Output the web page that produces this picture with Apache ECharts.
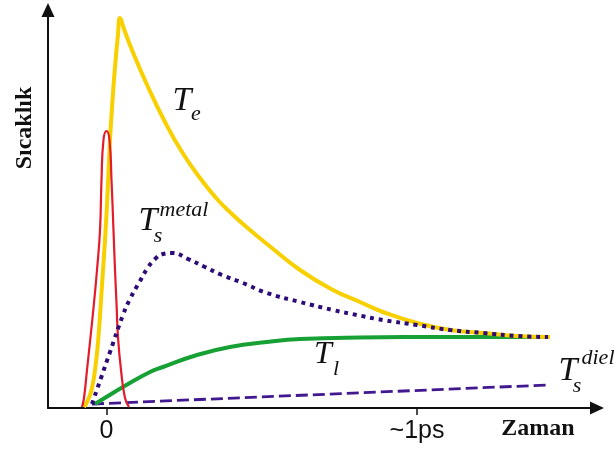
<!DOCTYPE html>
<html><head><meta charset="utf-8">
<script src="https://cdn.jsdelivr.net/npm/echarts@6/dist/echarts.min.js"></script>
<style>html,body{margin:0;padding:0;background:#fff}#c{width:616px;height:455px}</style>
</head><body><div id="c"></div>
<script>
// x: time in ps, y: temperature (arbitrary units)
const xTicks = [0, 1];
const xTickLabels = ['0', '~1ps'];

const teTime  = [-0.0725,-0.0596,-0.0467,-0.0338,-0.0242,-0.0145,-0.0048,0.0016,0.0113,0.0177,0.0274,0.0370,0.0435,0.0564,0.0821,0.1337,0.1884,0.2432,0.3011,0.3559,0.4074,0.4622,0.5169,0.6232,0.7295,0.8164,0.8905,1.0000,1.1063,1.2126,1.3221,1.4283];
const teValue = [1,8,20,46,78,123,168,203,268,300,341,373,390,379,358,321,286,256,230,209,193,178,164,138,118,106,96,85,78,75,72,71];

const laserTime  = [-0.0789,-0.0725,-0.0628,-0.0515,-0.0403,-0.0306,-0.0209,-0.0161,-0.0097,0,0.0097,0.0161,0.0225,0.0274,0.0322,0.0370,0.0467,0.0596,0.0725];
const laserValue = [1,10,38,71,105,138,178,228,268,277,268,228,178,138,105,71,38,10,1];

const tsMetalTime  = [-0.0467,-0.0177,0.0113,0.0531,0.0757,0.1079,0.1304,0.1562,0.1820,0.2110,0.2625,0.3172,0.3720,0.4396,0.5169,0.6232,0.7295,0.8068,0.8905,1.0000,1.1063,1.2126,1.3221,1.4219];
const tsMetalValue = [4,30,56,93,109,127,139,149,154,155,149,141,133,125,115,106,98,93,88,83,78,75,72,71];

const tlTime  = [-0.0370,0.0048,0.0531,0.1401,0.1820,0.2915,0.3977,0.5169,0.6232,0.8164,1.1063,1.4283];
const tlValue = [4,12,21,36,41,53,61,66,69,70.5,71,71];

const tsDielTime  = [-0.0467,1.4219];
const tsDielValue = [4,23];

function zip(a,b){return a.map((v,i)=>[v,b[i]]);}

const chart = echarts.init(document.getElementById('c'));
const serif = 'Liberation Serif, Times New Roman, serif';
function it(text, x, y, size){
  return {type:'text', x:x, y:y, style:{text:text, font:'italic '+size+'px '+serif, fill:'#111', align:'center', verticalAlign:'middle'}};
}
chart.setOption({
  animation:false,
  backgroundColor:'#fff',
  grid:{left:48, right:19, top:10, bottom:47},
  xAxis:{
    type:'value', min:-0.1884, max:1.5797,
    splitLine:{show:false},
    axisLine:{show:true, onZero:false, symbol:['none','triangle'], symbolSize:[13,14], lineStyle:{color:'#111', width:2}},
    axisTick:{show:true, customValues:xTicks, length:7, lineStyle:{color:'#111', width:1.5}},
    axisLabel:{show:true, customValues:xTicks, margin:11, fontSize:25, color:'#111', fontFamily:'Liberation Sans, Arial, sans-serif',
      formatter:function(v){ const i = xTicks.indexOf(v); return i>=0 ? xTickLabels[i] : ''; }}
  },
  yAxis:{
    type:'value', min:0, max:398,
    splitLine:{show:false},
    axisLine:{show:true, onZero:false, symbol:['none','triangle'], symbolSize:[13,14], lineStyle:{color:'#111', width:2}},
    axisTick:{show:false}, axisLabel:{show:false}
  },
  series:[
    {type:'line', name:'Ts diel', data:zip(tsDielTime,tsDielValue), showSymbol:false, lineStyle:{color:'#42188f', width:2.8, type:[12,5]}},
    {type:'line', name:'Tl', data:zip(tlTime,tlValue), showSymbol:false, smooth:0.5, lineStyle:{color:'#17a033', width:4}},
    {type:'line', name:'Te', data:zip(teTime,teValue), showSymbol:false, smooth:0.5, lineStyle:{color:'#f8d000', width:4}},
    {type:'line', name:'laser', data:zip(laserTime,laserValue), showSymbol:false, smooth:0.5, lineStyle:{color:'#e31b2a', width:2.2}},
    {type:'line', name:'Ts metal', data:zip(tsMetalTime,tsMetalValue), showSymbol:false, smooth:0.5, lineStyle:{color:'#2d0b78', width:4, type:[4,4.8], cap:'butt'}}
  ],
  graphic:[
    {type:'text', x:25, y:128, rotation:Math.PI/2, style:{text:'Sıcaklık', font:'bold 24px '+serif, fill:'#111', align:'center', verticalAlign:'middle'}},
    {type:'text', x:538, y:429, style:{text:'Zaman', font:'bold 24px '+serif, fill:'#111', align:'center', verticalAlign:'middle'}},
    it('T',182,101,34), it('e',196,114,22),
    it('T',148,221,34), it('s',158,236,22), it('metal',184,210,22),
    it('T',323,355,32), it('l',336,369,22),
    it('T',568,371,34), it('s',577,386,22), it('diel',598,358,22)
  ]
});
</script>
</body></html>
